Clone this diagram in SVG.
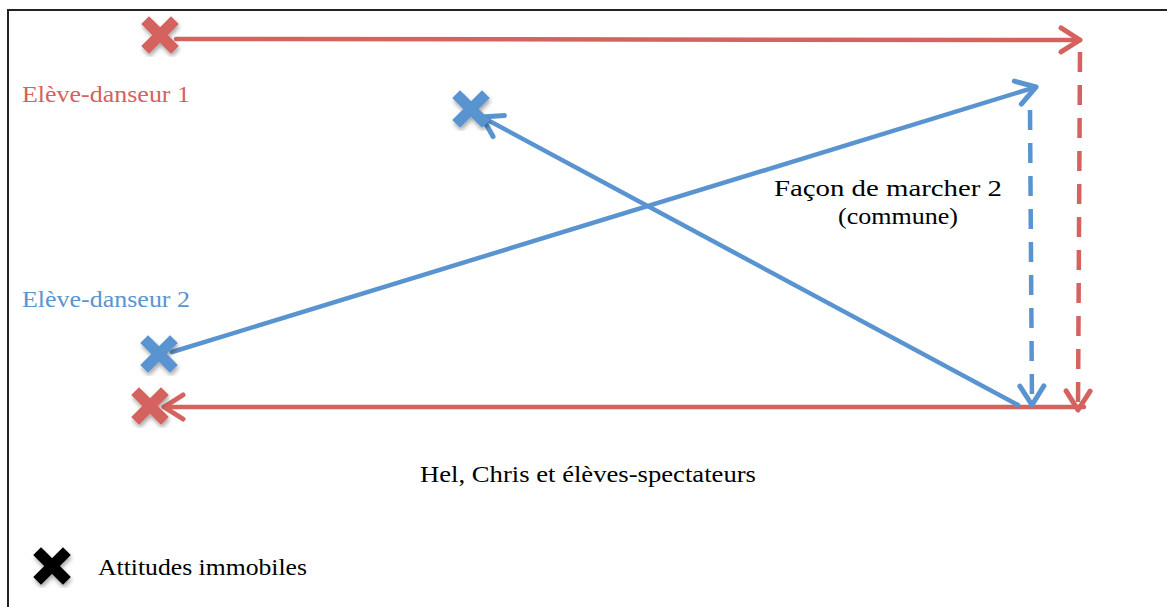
<svg xmlns="http://www.w3.org/2000/svg" width="1167" height="607" viewBox="0 0 1167 607">
<style>
.red{stroke:#d4625f;fill:none;stroke-width:4.5;stroke-linecap:round;stroke-linejoin:round}
.blue{stroke:#5a94d0;fill:none;stroke-width:4.5;stroke-linecap:round;stroke-linejoin:round}
.dash{stroke-dasharray:20 13;stroke-linecap:butt}
.t{font-family:"Liberation Serif",serif;font-size:23px}
.xr{stroke:#d4625f}.xb{stroke:#5a94d0}.xk{stroke:#000}
.x{stroke-width:11;stroke-linecap:square;fill:none}
</style>
<defs>
<filter id="sh" x="-50%" y="-50%" width="200%" height="200%"><feDropShadow dx="1" dy="3" stdDeviation="2" flood-color="#000" flood-opacity="0.35"/></filter>
<marker id="ar" viewBox="0 0 26 30" refX="23" refY="15" markerWidth="26" markerHeight="30" markerUnits="userSpaceOnUse" orient="auto"><path d="M4,3 L23,15 L4,27" fill="none" stroke="#d4625f" stroke-width="5" stroke-linecap="round" stroke-linejoin="round"/></marker>
<marker id="ab" viewBox="0 0 26 30" refX="23" refY="15" markerWidth="26" markerHeight="30" markerUnits="userSpaceOnUse" orient="auto"><path d="M4,3 L23,15 L4,27" fill="none" stroke="#5a94d0" stroke-width="5" stroke-linecap="round" stroke-linejoin="round"/></marker>
</defs>
<rect x="8" y="10" width="1170" height="610" fill="#fff" stroke="#222" stroke-width="2"/>
<g id="connectors">
<line class="red" x1="176" y1="39" x2="1080" y2="40" marker-end="url(#ar)"/>
<line class="red dash" x1="1080" y1="52" x2="1078" y2="410" marker-end="url(#ar)"/>
<line class="red" x1="1084" y1="407" x2="164" y2="407" marker-end="url(#ar)"/>
<line class="blue" x1="172" y1="352" x2="1036" y2="87" marker-end="url(#ab)"/>
<line class="blue" x1="1018" y1="405" x2="482" y2="117" marker-end="url(#ab)"/>
<line class="blue dash" x1="1030" y1="110" x2="1032" y2="405" marker-end="url(#ab)"/>
</g>
<g id="x-red-top" filter="url(#sh)"><path class="x xr" d="M149,24 L171,46 M171,24 L149,46"/></g>
<g id="x-blue-mid" filter="url(#sh)"><path class="x xb" d="M460,98 L482,120 M482,98 L460,120"/></g>
<g id="x-blue-low" filter="url(#sh)"><path class="x xb" d="M148,343 L170,365 M170,343 L148,365"/></g>
<g id="x-red-low" filter="url(#sh)"><path class="x xr" d="M139,395 L161,417 M161,395 L139,417"/></g>
<g id="legend">
<g filter="url(#sh)"><path class="x xk" d="M41,555 L63,577 M63,555 L41,577"/></g>
<text class="t" x="98" y="575" textLength="209" lengthAdjust="spacingAndGlyphs">Attitudes immobiles</text>
</g>
<g id="labels">
<text class="t" x="22" y="102" fill="#d4625f" textLength="168" lengthAdjust="spacingAndGlyphs">Elève-danseur 1</text>
<text class="t" x="22" y="307" fill="#5a94d0" textLength="168" lengthAdjust="spacingAndGlyphs">Elève-danseur 2</text>
<text class="t" x="888" y="196" text-anchor="middle" textLength="228" lengthAdjust="spacingAndGlyphs">Façon de marcher 2</text>
<text class="t" x="898" y="224" text-anchor="middle" textLength="120" lengthAdjust="spacingAndGlyphs">(commune)</text>
<text class="t" x="588" y="482" text-anchor="middle" textLength="336" lengthAdjust="spacingAndGlyphs">Hel, Chris et élèves-spectateurs</text>
</g>
</svg>
